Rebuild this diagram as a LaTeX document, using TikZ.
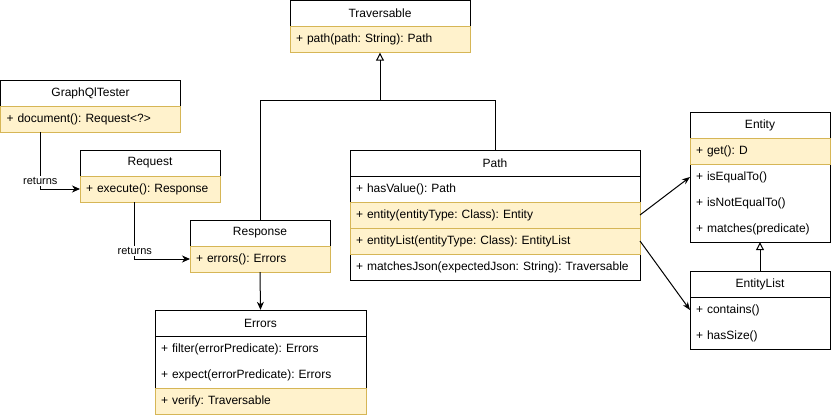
\documentclass[tikz,border=0pt]{standalone}
\usepackage{fontspec}
\setmainfont{Liberation Sans}
\usetikzlibrary{arrows.meta,fit,backgrounds}
\definecolor{hlfill}{HTML}{FFF2CC}
\definecolor{hlstroke}{HTML}{D6B656}
\frenchspacing
\begin{document}
\begin{tikzpicture}[x=1pt,y=-1pt,line width=1pt,
  hdr/.style={draw=black, anchor=north west, minimum height=26pt, inner sep=0pt, outer sep=0pt,
    text width=#1, align=center, font=\fontsize{12pt}{14pt}\selectfont},
  row/.style={anchor=north west, minimum height=26pt, inner xsep=6pt, inner ysep=0pt, outer sep=0pt,
    text width=#1, align=left, font=\fontsize{12pt}{14pt}\selectfont},
  hl/.style={fill=hlfill, draw=hlstroke},
  frame/.style={draw=black, inner sep=0pt},
  ret/.style={-{Stealth[length=8pt,width=7pt,inset=2.5pt]}},
  assoc/.style={-{Stealth[length=8pt,width=6pt,inset=2.5pt]}},
  inh/.style={-{Triangle[open,length=8pt,width=8pt]}},
  lbl/.style={font=\fontsize{11pt}{13pt}\selectfont, fill=white, inner sep=1pt}
]
\useasboundingbox (0,0) rectangle (831,418);

% Traversable
\node[hdr=180pt] (trav-h) at (290,0.5) {Traversable};
\node[row=168pt,hl] (trav-r1) at (290,26.5) {+ path(path: String): Path};
\begin{scope}[on background layer]
\node[frame, fit=(trav-h)(trav-r1)] (trav) {};
\end{scope}

% GraphQlTester
\node[hdr=180pt] (gq-h) at (0.5,80) {GraphQlTester};
\node[row=168pt,hl] (gq-r1) at (0.5,106) {+ document(): Request<?>};
\begin{scope}[on background layer]
\node[frame, fit=(gq-h)(gq-r1)] (gq) {};
\end{scope}

% Request
\node[hdr=140pt] (req-h) at (80,150) {Request};
\node[row=128pt,hl] (req-r1) at (80,176) {+ execute(): Response};
\begin{scope}[on background layer]
\node[frame, fit=(req-h)(req-r1)] (req) {};
\end{scope}

% Response
\node[hdr=140pt] (resp-h) at (190,220) {Response};
\node[row=128pt,hl] (resp-r1) at (190,246) {+ errors(): Errors};
\begin{scope}[on background layer]
\node[frame, fit=(resp-h)(resp-r1)] (resp) {};
\end{scope}

% Errors
\node[hdr=211pt] (err-h) at (155,310) {Errors};
\node[row=199pt] (err-r1) at (155,336) {+ filter(errorPredicate): Errors};
\node[row=199pt] (err-r2) at (155,362) {+ expect(errorPredicate): Errors};
\node[row=199pt,hl] (err-r3) at (155,388) {+ verify: Traversable};
\begin{scope}[on background layer]
\node[frame, fit=(err-h)(err-r3)] (err) {};
\end{scope}

% Path
\node[hdr=290pt] (path-h) at (350,150) {Path};
\node[row=278pt] (path-r1) at (350,176) {+ hasValue(): Path};
\node[row=278pt,hl] (path-r2) at (350,202) {+ entity(entityType: Class): Entity};
\node[row=278pt,hl] (path-r3) at (350,228) {+ entityList(entityType: Class): EntityList};
\node[row=278pt] (path-r4) at (350,254) {+ matchesJson(expectedJson: String): Traversable};
\begin{scope}[on background layer]
\node[frame, fit=(path-h)(path-r4)] (path) {};
\end{scope}

% Entity
\node[hdr=140pt] (ent-h) at (690,112) {Entity};
\node[row=128pt,hl] (ent-r1) at (690,138) {+ get(): D};
\node[row=128pt] (ent-r2) at (690,164) {+ isEqualTo()};
\node[row=128pt] (ent-r3) at (690,190) {+ isNotEqualTo()};
\node[row=128pt] (ent-r4) at (690,216) {+ matches(predicate)};
\begin{scope}[on background layer]
\node[frame, fit=(ent-h)(ent-r4)] (ent) {};
\end{scope}

% EntityList
\node[hdr=140pt] (el-h) at (690,271) {EntityList};
\node[row=128pt] (el-r1) at (690,297) {+ contains()};
\node[row=128pt] (el-r2) at (690,323) {+ hasSize()};
\begin{scope}[on background layer]
\node[frame, fit=(el-h)(el-r2)] (el) {};
\end{scope}

% Inheritance to Traversable
\coordinate (j) at (380,100);
\draw[inh] (path.north) |- (j) -- (trav.south);
\draw (resp.north) |- (j);

% Entity inheritance
\draw[inh] (el.north) -- (ent.south);

% returns connectors
\draw[ret] ([xshift=40pt]gq.south west) |- coordinate[pos=0.5] (c1) (req-r1.west);
\node[lbl, anchor=south] at ([yshift=3pt]c1) {returns};
\draw[ret] ([xshift=55pt]req.south west) |- coordinate[pos=0.5] (c2) (resp-r1.west);
\node[lbl, anchor=south] at ([yshift=3pt]c2) {returns};

% Response -> Errors
\draw[ret] (resp.south) -- (err.north);

% Path -> Entity / EntityList
\draw[assoc] (path-r2.east) -- (ent-r2.west);
\draw[assoc] (path-r3.east) -- (el-r1.west);
\end{tikzpicture}
\end{document}
